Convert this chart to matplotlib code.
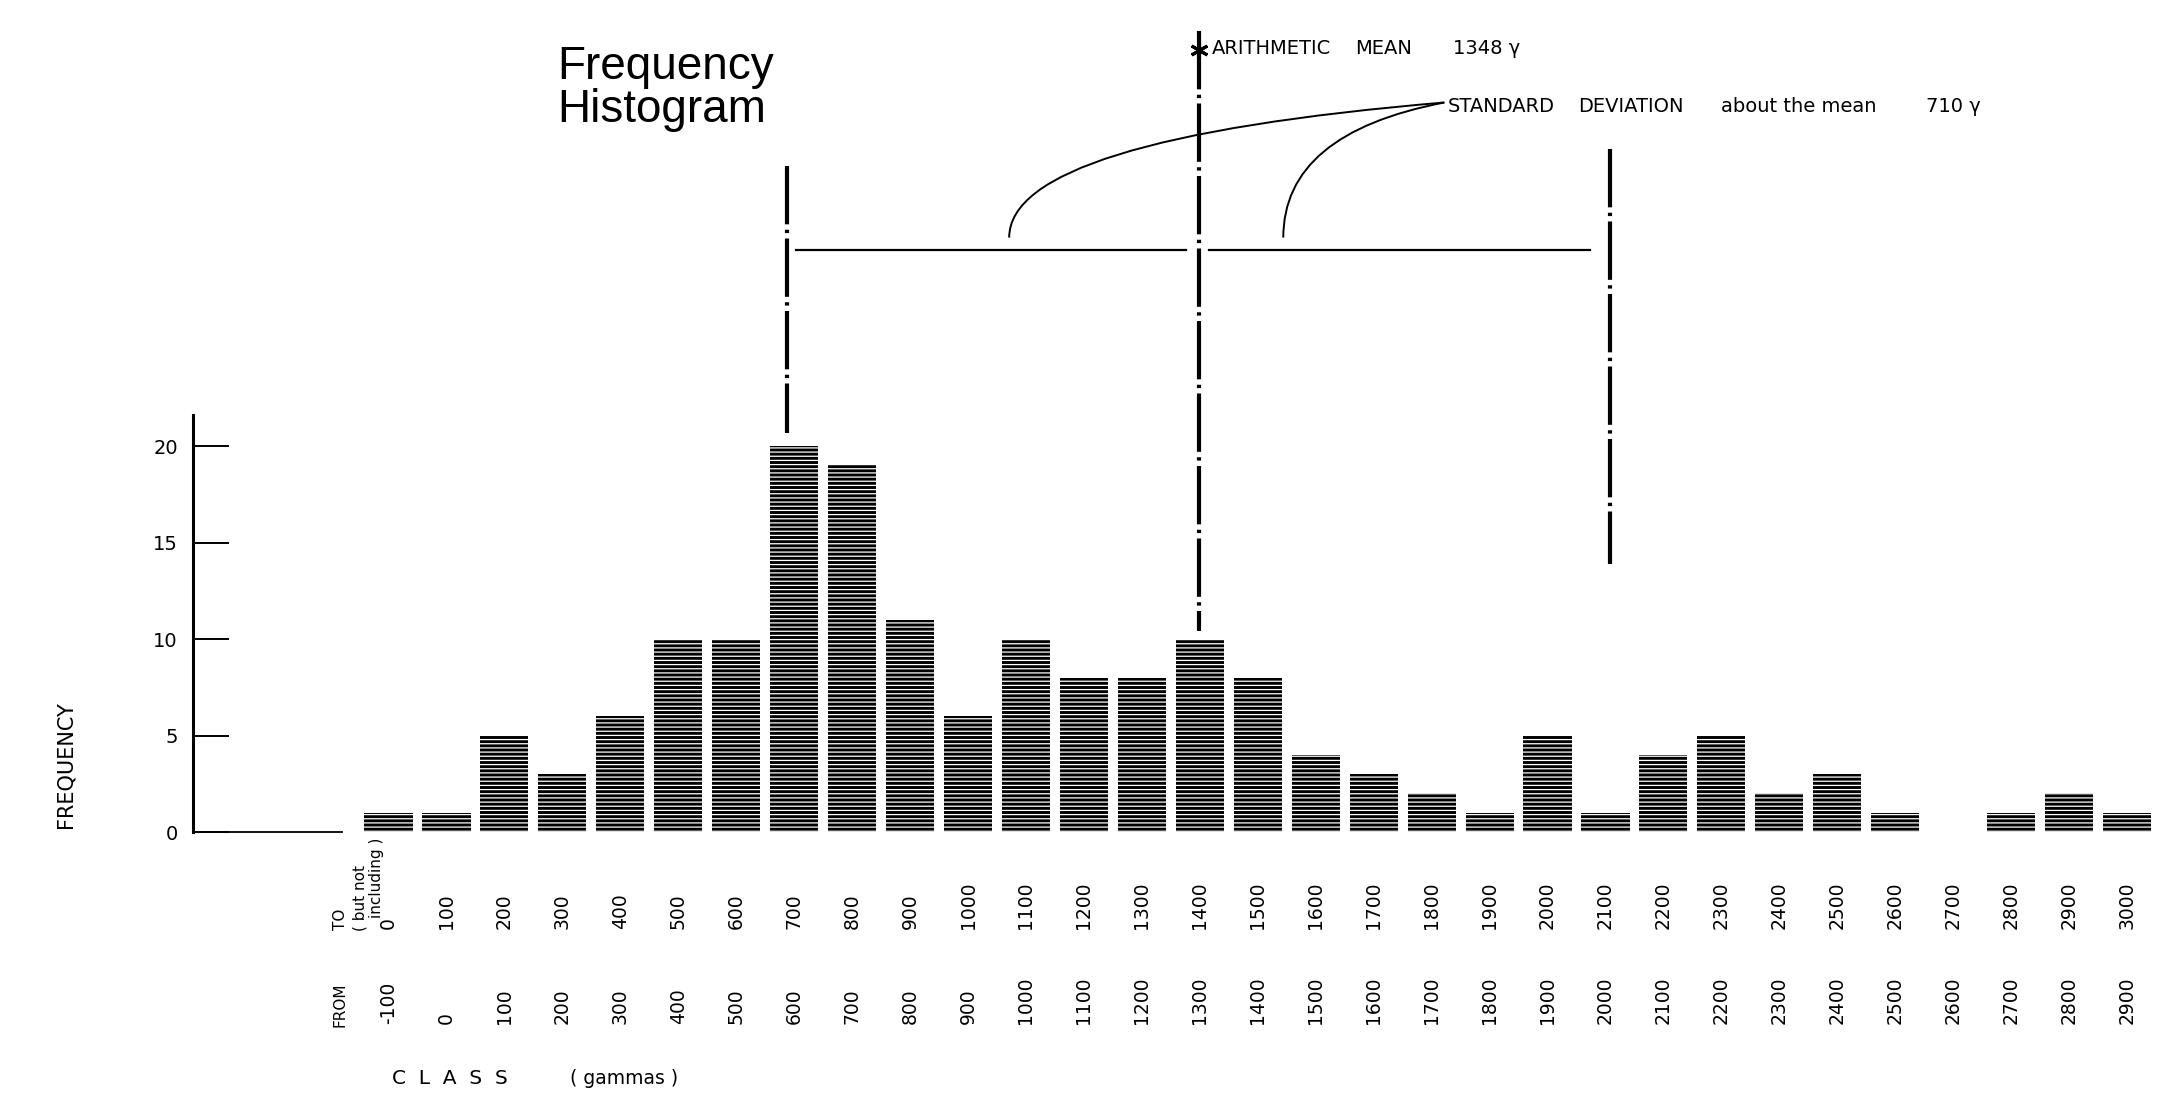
import numpy as np
import matplotlib
matplotlib.use("Agg")
import matplotlib.pyplot as plt
from matplotlib.path import Path
from matplotlib.patches import PathPatch

# ---------------- data ----------------
CLASS_FROM = [-100, 0, 100, 200, 300, 400, 500, 600, 700, 800, 900, 1000, 1100,
              1200, 1300, 1400, 1500, 1600, 1700, 1800, 1900, 2000, 2100, 2200,
              2300, 2400, 2500, 2600, 2700, 2800, 2900]
CLASS_TO = [0, 100, 200, 300, 400, 500, 600, 700, 800, 900, 1000, 1100, 1200,
            1300, 1400, 1500, 1600, 1700, 1800, 1900, 2000, 2100, 2200, 2300,
            2400, 2500, 2600, 2700, 2800, 2900, 3000]
FREQUENCY = [1, 1, 5, 3, 6, 10, 10, 20, 19, 11, 6, 10, 8, 8, 10, 8, 4, 3, 2, 1,
             5, 1, 4, 5, 2, 3, 1, 0, 1, 2, 1]
Y_TICKS = [0, 5, 10, 15, 20]
MEAN = 1348
SD = 710

plt.rcParams['font.family'] = ['DejaVu Sans']
plt.rcParams['hatch.linewidth'] = 0.9

fig = plt.figure(figsize=(21.68, 10.98), dpi=100)
ax = fig.add_axes([0, 0, 1, 1])
ax.set_xlim(-720.4, 3020.7)
ax.set_ylim(-13.78, 43.11)

centers = [(a + b) / 2 for a, b in zip(CLASS_FROM, CLASS_TO)]

# bars with dense horizontal stripes
ax.bar(centers, FREQUENCY, width=83, color='black', edgecolor='white',
       linewidth=0, hatch='----', zorder=2)

# axes
AXIS_X = -387
for s in ['top', 'right']:
    ax.spines[s].set_visible(False)
ax.spines['left'].set_position(('data', AXIS_X))
ax.spines['left'].set_bounds(0, 21.6)
ax.spines['left'].set_linewidth(2.2)
ax.spines['bottom'].set_position(('data', 0))
ax.spines['bottom'].set_bounds(AXIS_X, -130)
ax.spines['bottom'].set_linewidth(1.3)
ax.set_xticks([])
ax.set_yticks(Y_TICKS)
ax.set_yticklabels([str(v) for v in Y_TICKS])
ax.tick_params(axis='y', direction='in', length=26, width=1.4, pad=11,
               labelsize=14)

# y label
ax.text(-608, 3.5, 'FREQUENCY', rotation=90, ha='center', va='center',
        fontsize=15)

# class labels
for c, t, f in zip(centers, CLASS_TO, CLASS_FROM):
    ax.text(c, -5.0, str(t), rotation=90, ha='center', va='bottom', fontsize=13.5)
    ax.text(c, -9.95, str(f), rotation=90, ha='center', va='bottom', fontsize=13.5)
ax.text(-132, -5.05, 'TO', rotation=90, ha='center', va='bottom', fontsize=11)
ax.text(-100, -5.15, '( but not', rotation=90, ha='center', va='bottom', fontsize=11)
ax.text(-70, -4.45, 'including )', rotation=90, ha='center', va='bottom', fontsize=11)
ax.text(-134, -10.1, 'FROM', rotation=90, ha='center', va='bottom', fontsize=11)
ax.text(-44, -12.75, 'C  L  A  S  S', ha='left', va='center', fontsize=14.5)
ax.text(263, -12.75, '( gammas )', ha='left', va='center', fontsize=13.5)

# title
ax.text(241, 39.0, 'Frequency', ha='left', va='baseline', fontsize=33,
        family='Liberation Sans')
ax.text(241, 36.8, 'Histogram', ha='left', va='baseline', fontsize=33,
        family='Liberation Sans')

# mean and standard deviation lines
dash = (0, (14, 1.3, 0.8, 1.3))
ax.plot([MEAN, MEAN], [41.5, 10.4], color='black', lw=3, linestyle=dash,
        zorder=3)
ax.plot([MEAN - SD, MEAN - SD], [34.5, 20.7], color='black', lw=3,
        linestyle=dash, zorder=3)
ax.plot([MEAN + SD, MEAN + SD], [35.4, 13.9], color='black', lw=3,
        linestyle=dash, zorder=3)
ax.plot([MEAN], [40.5], marker=(6, 2, 0), ms=13, mew=2.2, color='black', zorder=4)

# horizontal SD bars
ax.plot([MEAN - SD + 15, MEAN - 22], [30.15, 30.15], color='black', lw=1.6)
ax.plot([MEAN + 18, MEAN + SD - 35], [30.15, 30.15], color='black', lw=1.6)

# annotation texts
for x, s in [(1371, 'ARITHMETIC'), (1618, 'MEAN'), (1787, '1348 γ')]:
    ax.text(x, 40.6, s, ha='left', va='center', fontsize=14)
for x, s in [(1778, 'STANDARD'), (2003, 'DEVIATION'), (2249, 'about the mean'),
             (2603, '710 γ')]:
    ax.text(x, 37.6, s, ha='left', va='center', fontsize=14)

# curved leader lines
start = (1772, 37.8)
for end, ctrl in [((MEAN - 327, 30.8), (MEAN - 327, 35.9)),
                  ((MEAN + 146, 30.8), (MEAN + 146, 36.2))]:
    p = Path([start, ctrl, end], [Path.MOVETO, Path.CURVE3, Path.CURVE3])
    ax.add_patch(PathPatch(p, fill=False, lw=1.4, color='black'))

fig.savefig('out.png', dpi=100)
